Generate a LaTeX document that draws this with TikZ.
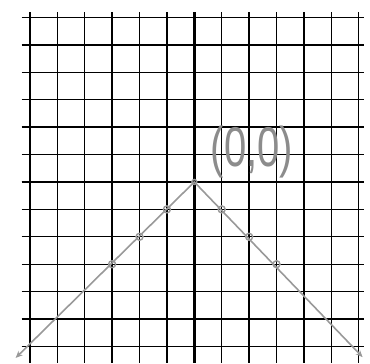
\documentclass[tikz,border=0pt]{standalone}
\usepackage{fontspec}
\newfontfamily\handfont{Liberation Sans}
\usetikzlibrary{arrows.meta}
\begin{document}
\begin{tikzpicture}[x=27.4pt,y=27.4pt,
  gridline/.style={black,line width=1.4pt},
  axisline/.style={black,line width=2.6pt},
  graphline/.style={gray!80,line width=1.6pt},
  dot/.style={circle,draw=gray!80,line width=1.4pt,inner sep=0pt,minimum size=7pt},
  lbl/.style={text=gray!90,font=\handfont\fontsize{40}{40}\selectfont}]
\useasboundingbox (-7.09,-6.61) rectangle (6.41,6.64);
% grid
\foreach \i in {-6,...,6}{
  \draw[gridline] (\i,6.2) -- (\i,-6.61);
  \draw[gridline] (-6.3,\i) -- (6.19,\i);
}
\draw[axisline] (0,6.2) -- (0,-6.61);
\draw[axisline] (-6.3,0) -- (6.19,0);
% graph
\coordinate (L) at (-6.52,-6.42);
\coordinate (R) at (6.14,-6.39);
\node[dot,minimum size=5pt] (O) at (0,0) {};
\draw[graphline,{Stealth[length=7pt,width=6pt]}-{Stealth[length=7pt,width=6pt]}] (L) -- (O.center) -- (R);
\node[dot] (m1) at (-1,-1) {};
\node[dot] (m2) at (-2,-2) {};
\node[dot] (m3) at (-3,-3) {};
\node[dot] (p1) at (1,-1) {};
\node[dot] (p2) at (2,-2) {};
\node[dot] (p3) at (3,-3) {};
\node[lbl,xscale=1.0,yscale=1.4] (lab) at (2.1,1.09) {(0,0)};
\end{tikzpicture}
\end{document}
